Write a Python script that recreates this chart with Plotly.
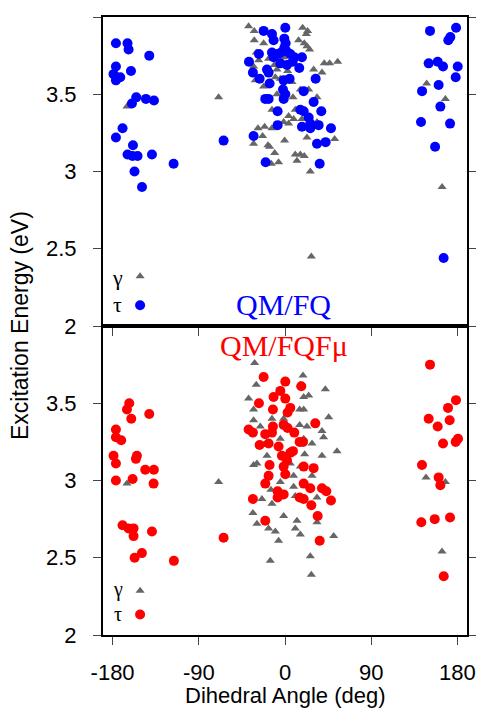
import plotly.graph_objects as go

# ---------------- data: top panel (QM/FQ) ----------------
gamma_fq_x = [-165.0, -69.3, 147.9, 167.4, 164.0,
              -38.0, -32.1, -32.1, -22.3, 18.4, 22.2, 23.6, 14.2, 20.1, 22.9, 25.7,
              -30.0, -27.5, -17.1, -1.4, -11.2, 29.9, 41.0, 46.6, 55.0, 38.6,
              -31.0, -22.3, -17.1, -10.1, 2.7, 16.0, 24.7, 33.4, -8.4, 8.3,
              -13.6, 10.7, 3.8, 9.0, -1.4, 3.8, 33.4, -21.3, -28.2, -13.6, 17.7,
              22.9, -23.4, -32.8, -17.8, -16.1, -0.4, 51.8, -10.8, 10.7, 16.0,
              20.1, 12.5, -14.3, -6.7, 26.4, 27.5, -32.8, -8.4, -4.9, 7.3]
gamma_fq_y = [3.42, 3.48, 3.57, 3.47, 2.90,
              3.94, 3.91, 3.85, 3.83, 3.93, 3.89, 3.91, 3.85, 3.83, 3.81, 3.79,
              3.77, 3.72, 3.73, 3.74, 3.69, 3.66, 3.70, 3.70, 3.71, 3.64,
              3.59, 3.55, 3.56, 3.61, 3.65, 3.53, 3.53, 3.48, 3.50, 3.48,
              3.40, 3.40, 3.36, 3.34, 3.32, 3.31, 3.32, 3.29, 3.28, 3.28, 3.34,
              3.22, 3.23, 3.18, 3.17, 3.16, 3.20, 3.21, 3.12, 3.11, 3.11,
              3.10, 3.07, 3.05, 3.06, 3.00, 2.45, 3.68, 3.66, 3.60, 3.58]

tau_fq_x = [-176.5, -164.4, -163.3, -141.7, -176.5, -160.8, -179.0, -172.0, -176.5,
            -155.3, -159.8, -145.2, -136.8, -169.6, -176.5, -158.7, -164.4, -159.2,
            -153.9, -138.9, -116.3, -157.1, -149.3, -64.1,
            -22.3, 0.3, -13.6, -11.9, -0.7, 0.7, -0.7, 1.4, -27.2, -37.6,
            -13.6, -11.9, -7.7, -4.2, 5.5, 9.7, 17.7, -4.9, 2.1, 8.0, 14.9,
            -33.5, -26.5, -18.8, -17.1, -16.1, -1.4, 4.8, -2.1, 0.3, -1.4,
            32.0, 19.5, -20.6, -17.1, -7.7, 29.9, 16.0, 19.5, 24.7, 26.4,
            37.9, -7.7, 17.7, 26.4, 35.1, 48.0, -32.8, 33.4, 42.4, -20.2, 36.2,
            151.4, 178.6, 170.5, 172.6, 150.0, 159.4, 165.0, 180.3, 178.2,
            160.4, 143.1, 162.2, 142.0, 172.3, 156.7, 165.6]
tau_fq_y = [3.83, 3.83, 3.79, 3.75, 3.68, 3.65, 3.63, 3.61, 3.59,
            3.48, 3.44, 3.47, 3.46, 3.28, 3.22, 3.17, 3.11, 3.10,
            3.10, 3.11, 3.05, 3.00, 2.90, 3.20,
            3.91, 3.93, 3.89, 3.85, 3.86, 3.83, 3.80, 3.78, 3.76, 3.71,
            3.77, 3.74, 3.76, 3.77, 3.76, 3.74, 3.74, 3.70, 3.69, 3.71, 3.67,
            3.64, 3.60, 3.66, 3.64, 3.57, 3.59, 3.60, 3.53, 3.50, 3.47,
            3.60, 3.52, 3.47, 3.47, 3.39, 3.45, 3.40, 3.39, 3.35, 3.31,
            3.39, 3.30, 3.29, 3.28, 3.30, 3.28, 3.23, 3.18, 3.19, 3.06, 3.05,
            3.91, 3.93, 3.85, 3.87, 3.70, 3.71, 3.68, 3.68, 3.61,
            3.56, 3.52, 3.42, 3.32, 3.31, 3.16, 2.44]

# ---------------- data: bottom panel (QM/FQFmu) ----------------
gamma_fqfmu_x = [-165.0, -69.3, 147.2, 167.4, 163.9,
                 -31.7, -30.0, 18.8, 16.0, 42.1, -38.0, -32.8, 19.5, 24.7, 15.3,
                 19.5, 45.6, -32.8, -13.6, -25.8, 15.3, 22.9, 38.6, 40.3, 28.2,
                 -22.3, -4.9, 19.5, 20.5, 38.6, 54.3, -32.8, -29.3, 16.0, 28.2,
                 -4.9, 9.0, -14.7, -24.1, -13.6, 10.7, 33.4, -33.5, -1.4, 12.5,
                 -29.3, -17.1, -10.1, 10.7, 16.0, 33.4, 50.8, -6.7, -15.4, 26.4,
                 27.5, -1.4, 9.0, -18.8, 5.5]
gamma_fqfmu_y = [2.98, 2.99, 3.02, 2.99, 2.54,
                 3.76, 3.62, 3.68, 3.62, 3.59, 3.53, 3.46, 3.54, 3.55, 3.46,
                 3.46, 3.41, 3.39, 3.40, 3.35, 3.36, 3.35, 3.32, 3.28, 3.24,
                 3.23, 3.27, 3.27, 3.17, 3.16, 3.19, 3.10, 3.11, 3.09, 3.03,
                 2.99, 2.96, 2.94, 2.88, 2.85, 2.90, 2.89, 2.79, 2.77, 2.74,
                 2.72, 2.69, 2.67, 2.69, 2.65, 2.73, 2.64, 2.61, 2.48, 2.51,
                 2.39, 3.40, 3.03, 3.16, 3.11]

tau_fqfmu_x = [-162.6, -165.0, -160.5, -141.7, -176.5, -176.5, -171.0, -179.0,
               -154.6, -155.6, -176.5, -145.9, -136.9, -176.5, -159.1, -137.2,
               -169.6, -163.3, -158.1, -158.1, -138.9, -157.0, -149.4, -116.0, -64.1,
               -22.3, 0.3, 17.0, -4.9, -11.9, 0.3, -27.2, -12.6, 5.5, 2.7, 31.6,
               -38.0, -33.5, -12.6, -1.4, 2.7, -20.6, -13.6, 9.7, 15.3, 18.8,
               -26.5, -17.1, -6.7, -3.2, 5.5, 8.3, 2.1, -1.4, 0.3, -16.1, 19.5,
               29.9, -17.1, -20.6, 19.5, 26.4, 38.6, 43.1, -7.7, -1.4, -7.7,
               -33.5, 15.3, 19.5, 27.5, 48.0, 34.1, -20.6, 36.2,
               151.4, 178.5, 170.2, 150.0, 159.4, 171.9, 165.0, 178.2, 180.6,
               143.0, 160.4, 162.2, 142.3, 156.3, 172.3, 165.7]
tau_fqfmu_y = [3.50, 3.46, 3.40, 3.43, 3.33, 3.28, 3.26, 3.16,
               3.16, 3.14, 3.11, 3.07, 3.07, 3.00, 3.01, 2.98,
               2.71, 2.69, 2.69, 2.64, 2.67, 2.50, 2.53, 2.48, 2.63,
               3.67, 3.64, 3.61, 3.58, 3.54, 3.53, 3.50, 3.46, 3.47, 3.44, 3.37,
               3.33, 3.31, 3.35, 3.36, 3.34, 3.30, 3.31, 3.31, 3.25, 3.25,
               3.23, 3.24, 3.22, 3.16, 3.18, 3.19, 3.13, 3.09, 3.04, 3.10, 3.09,
               3.08, 3.03, 2.98, 2.98, 2.95, 2.95, 2.93, 2.93, 2.91, 2.89,
               2.88, 2.89, 2.88, 2.84, 2.87, 2.77, 2.74, 2.61,
               3.75, 3.52, 3.47, 3.40, 3.35, 3.39, 3.24, 3.25, 3.27,
               3.10, 3.02, 2.97, 2.73, 2.75, 2.76, 2.38]

x_ticks = [-180, -90, 0, 90, 180]
y_ticks_top = [2, 2.5, 3, 3.5, 4]
y_ticks_bottom = [2, 2.5, 3, 3.5]

GREY = "#666666"
BLUE = "#0000FF"
RED = "#FF0000"
SANS = "Liberation Sans, Arial, sans-serif"
SERIF = "Liberation Serif, Times New Roman, serif"

fig = go.Figure()

def add_pair(gx, gy, tx, ty, color, xa, ya, legend):
    fig.add_trace(go.Scatter(x=gx, y=gy, mode="markers", name="γ",
                             marker=dict(symbol="triangle-up", size=8, color=GREY),
                             xaxis=xa, yaxis=ya, legend=legend, showlegend=True))
    fig.add_trace(go.Scatter(x=tx, y=ty, mode="markers", name="τ",
                             marker=dict(symbol="circle", size=10, color=color),
                             xaxis=xa, yaxis=ya, legend=legend, showlegend=True))

add_pair(gamma_fq_x, gamma_fq_y, tau_fq_x, tau_fq_y, BLUE, "x", "y", "legend")
add_pair(gamma_fqfmu_x, gamma_fqfmu_y, tau_fqfmu_x, tau_fqfmu_y, RED, "x2", "y2", "legend2")

axis_common = dict(showline=True, linecolor="black", linewidth=2, mirror=True,
                   showgrid=False, zeroline=False, ticks="outside", ticklen=8,
                   tickwidth=1, tickcolor="#444444", automargin=False,
                   tickfont=dict(family=SANS, size=22, color="black"))

# the page body adds an 8px offset, so margins are reduced by 8 on left/top
fig.update_layout(
    template="none",
    width=476, height=703,
    paper_bgcolor="white", plot_bgcolor="white",
    margin=dict(l=95, r=17, t=9, b=76, autoexpand=False),
    showlegend=True,
    xaxis=dict(domain=[0, 1], anchor="y", range=[-190, 190], tickvals=x_ticks,
               showticklabels=False, **axis_common),
    yaxis=dict(domain=[0.5, 1], anchor="x", range=[2, 4], tickvals=y_ticks_top,
               ticktext=[str(v) for v in y_ticks_top], ticklabelstandoff=12,
               **{**axis_common, "mirror": "ticks"}),
    xaxis2=dict(domain=[0, 1], anchor="y2", range=[-190, 190], tickvals=x_ticks,
                ticktext=[str(v) for v in x_ticks], ticklabelstandoff=9,
                **axis_common),
    yaxis2=dict(domain=[0, 0.5], anchor="x2", range=[2, 4], tickvals=y_ticks_bottom,
                ticktext=[str(v) for v in y_ticks_bottom], ticklabelstandoff=12,
                **{**axis_common, "mirror": "ticks"}),
    legend=dict(x=0.047, y=0.557, xanchor="left", yanchor="middle",
                bgcolor="rgba(0,0,0,0)", font=dict(size=20, color="rgba(0,0,0,0)"),
                itemwidth=30, tracegroupgap=0, borderwidth=0),
    legend2=dict(x=0.047, y=0.052, xanchor="left", yanchor="middle",
                 bgcolor="rgba(0,0,0,0)", font=dict(size=16, color="rgba(0,0,0,0)"),
                 itemwidth=30, tracegroupgap=0, borderwidth=0),
)

annotations = [
    dict(text="Excitation Energy (eV)", x=-0.228, y=0.5, xref="paper", yref="paper",
         textangle=-90, showarrow=False, xanchor="center", yanchor="middle",
         font=dict(family=SANS, size=23, color="black")),
    dict(text="Dihedral Angle (deg)", x=0.5, y=-0.0975, xref="paper", yref="paper",
         showarrow=False, xanchor="center", yanchor="middle",
         font=dict(family=SANS, size=22, color="black")),
    dict(text="QM/FQ", x=0.495, y=0.534, xref="paper", yref="paper", showarrow=False,
         xanchor="center", yanchor="middle", font=dict(family=SERIF, size=30, color=BLUE)),
    dict(text="QM/FQFμ", x=0.497, y=0.469, xref="paper", yref="paper", showarrow=False,
         xanchor="center", yanchor="middle", font=dict(family=SERIF, size=30, color=RED)),
]
for label, ypos, fs in [("γ", 0.579, 22), ("τ", 0.535, 22), ("γ", 0.073, 20), ("τ", 0.034, 20)]:
    annotations.append(dict(text=label, x=0.041, y=ypos, xref="paper", yref="paper",
                            showarrow=False, xanchor="center", yanchor="middle",
                            font=dict(family=SERIF, size=fs, color="black")))
fig.update_layout(annotations=annotations)

fig.write_html("out.html")
